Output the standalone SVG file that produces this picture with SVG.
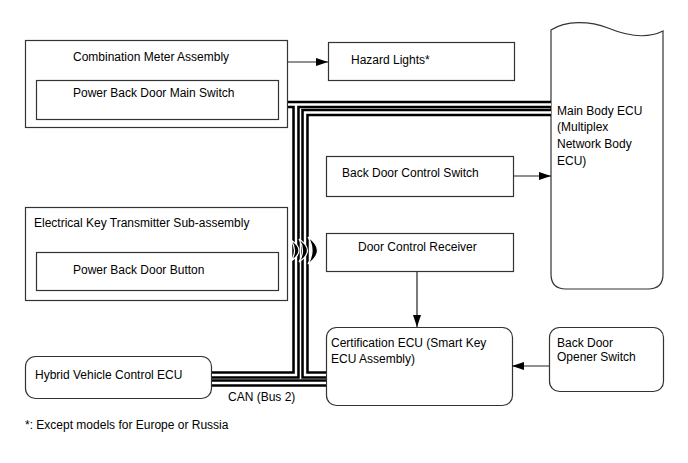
<svg xmlns="http://www.w3.org/2000/svg" width="688" height="463" viewBox="0 0 688 463">
<defs>
<marker id="arr" viewBox="0 0 12 8" refX="12" refY="4" markerWidth="12" markerHeight="8" markerUnits="userSpaceOnUse" orient="auto">
<path d="M0,0 L12,4 L0,8 Z" fill="#000"/>
</marker>
<style>
.box{fill:#fff;stroke:#333;stroke-width:1.2}
.t{font-family:"Liberation Sans",Arial,sans-serif;font-size:12px;fill:#000}
.conn{stroke:#222;stroke-width:1.2;fill:none}
.busb{stroke:#000;stroke-width:7.5;fill:none;stroke-linejoin:miter}
.busw{stroke:#fff;stroke-width:2.4;fill:none;stroke-linejoin:miter}
.wave{fill:#000;stroke:#fff;stroke-width:1.2}
</style>
</defs>
<rect width="688" height="463" fill="#fff"/>

<g id="combination-meter">
<rect class="box" x="25.5" y="40.5" width="262" height="87"/>
<text class="t" x="73" y="61">Combination Meter Assembly</text>
<rect class="box" x="36.5" y="80.5" width="242" height="39"/>
<text class="t" x="73" y="97">Power Back Door Main Switch</text>
</g>

<g id="hazard-lights">
<rect class="box" x="328.5" y="42.5" width="186" height="38"/>
<text class="t" x="351" y="64">Hazard Lights*</text>
</g>

<g id="main-body-ecu">
<path class="box" d="M551,30 C566,20 590,21 608,28 C625,35 645,40 663,31 L663,274 Q663,289 648,289 L566,289 Q551,289 551,274 Z"/>
<text class="t" x="557" y="115">Main Body ECU</text>
<text class="t" x="557" y="131">(Multiplex</text>
<text class="t" x="557" y="148">Network Body</text>
<text class="t" x="557" y="165">ECU)</text>
</g>

<g id="back-door-control-switch">
<rect class="box" x="326.5" y="156.5" width="187" height="40"/>
<text class="t" x="342" y="177">Back Door Control Switch</text>
</g>

<g id="electrical-key">
<rect class="box" x="25.5" y="207.5" width="262" height="93"/>
<text class="t" x="34" y="227">Electrical Key Transmitter Sub-assembly</text>
<rect class="box" x="36.5" y="252.5" width="242" height="38"/>
<text class="t" x="73" y="274">Power Back Door Button</text>
</g>

<g id="door-control-receiver">
<rect class="box" x="326.5" y="233.5" width="187" height="38"/>
<text class="t" x="358" y="251">Door Control Receiver</text>
</g>

<g id="certification-ecu">
<rect class="box" x="326.5" y="327.5" width="186" height="78" rx="10" ry="10"/>
<text class="t" x="331" y="347">Certification ECU (Smart Key</text>
<text class="t" x="331" y="363">ECU Assembly)</text>
</g>

<g id="back-door-opener">
<rect class="box" x="549.5" y="327.5" width="114" height="64" rx="10" ry="10"/>
<text class="t" x="557" y="347">Back Door</text>
<text class="t" x="557" y="361">Opener Switch</text>
</g>

<g id="hybrid-ecu">
<rect class="box" x="25.5" y="356.5" width="186" height="42" rx="10" ry="10"/>
<text class="t" x="35" y="379">Hybrid Vehicle Control ECU</text>
</g>

<g id="connectors">
<line class="conn" x1="288" y1="62" x2="328" y2="62" marker-end="url(#arr)"/>
<line class="conn" x1="514" y1="176" x2="551" y2="176" marker-end="url(#arr)"/>
<line class="conn" x1="417" y1="272" x2="417" y2="327" marker-end="url(#arr)"/>
<line class="conn" x1="549" y1="366" x2="512" y2="366" marker-end="url(#arr)"/>
<path class="busb" d="M288,104.5 H551"/>
<path class="busb" d="M296,104.5 V375 H212"/>
<path class="busb" d="M551,112.5 H305 V375 H326"/>
<path class="busb" d="M212,383 H326"/>
<path class="busw" d="M288,104.5 H551"/>
<path class="busw" d="M296,104.5 V375 H212"/>
<path class="busw" d="M551,112.5 H305 V375 H326"/>
<path class="busw" d="M212,383 H326"/>
<path class="wave" d="M291,240 Q307,250.5 291,261 Q298,250.5 291,240 Z"/>
<path class="wave" d="M299,239 Q316,250.5 299,262 Q306,250.5 299,239 Z"/>
<path class="wave" d="M308,237 Q327,250.5 308,264 Q316,250.5 308,237 Z"/>
</g>

<text class="t" x="228" y="401">CAN (Bus 2)</text>
<text class="t" x="25" y="429">*: Except models for Europe or Russia</text>
</svg>
